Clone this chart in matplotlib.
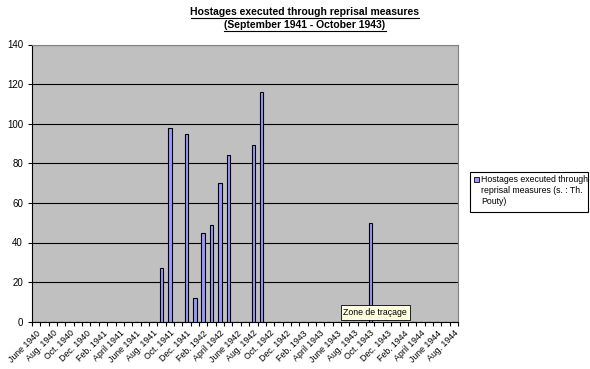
#! /usr/bin/env python

import matplotlib.pyplot as plt
from matplotlib.patches import Rectangle
from matplotlib.lines import Line2D

plt.rcParams['font.family'] = ['Liberation Sans', 'DejaVu Sans']

# one category per month, June 1940 .. Aug. 1944
tick_labels = [
    "June 1940", "Aug. 1940", "Oct. 1940", "Dec. 1940", "Feb. 1941", "April 1941",
    "June 1941", "Aug. 1941", "Oct. 1941", "Dec. 1941", "Feb. 1942", "April 1942",
    "June 1942", "Aug. 1942", "Oct. 1942", "Dec. 1942", "Feb. 1943", "April 1943",
    "June 1943", "Aug. 1943", "Oct. 1943", "Dec. 1943", "Feb. 1944", "April 1944",
    "June 1944", "Aug. 1944",
]

hostages = [
    0, 0, 0, 0, 0, 0, 0,          # June 1940 - Dec. 1940
    0, 0, 0, 0, 0, 0, 0, 0,       # Jan. 1941 - Aug. 1941
    27, 98, 0, 95,                # Sept. 1941 - Dec. 1941
    12, 45, 49, 70, 84, 0, 0, 89, 116, 0, 0, 0,   # 1942
    0, 0, 0, 0, 0, 0, 0, 0, 0, 50, 0, 0,          # 1943
    0, 0, 0, 0, 0, 0, 0, 0,       # Jan. 1944 - Aug. 1944
]

series_label = "Hostages executed through\nreprisal measures (s. : Th.\nPouty)"
title_1 = "Hostages executed through reprisal measures"
title_2 = "(September 1941 - October 1943)"

fig = plt.figure(figsize=(5.9, 3.69), dpi=100)
W, H = 590, 369
ax = fig.add_axes([32 / W, 1 - 321.7 / H, 426 / W, (321.7 - 44.5) / H])
ax.set_facecolor('#C0C0C0')

x = list(range(len(hostages)))
ax.bar(x, hostages, width=0.42, color='#9999FF', edgecolor='black', linewidth=0.8,
       zorder=3, label=series_label)

ax.set_xlim(-0.5, len(hostages) - 0.5)
ax.set_ylim(0, 140)
ax.set_yticks(range(0, 141, 20))
ax.yaxis.grid(True, color='black', linewidth=0.8, zorder=1)
ax.tick_params(axis='y', labelsize=7, length=3, width=0.8, direction='out')

ax.set_xticks(range(0, len(hostages), 2))
ax.set_xticklabels(tick_labels, rotation=45, ha='right', rotation_mode='anchor', fontsize=6.3)
ax.set_xticks([i - 0.5 for i in range(len(hostages) + 1)], minor=True)
ax.tick_params(axis='x', which='major', length=0, pad=5)
ax.tick_params(axis='x', which='minor', length=3, width=0.8, direction='out')

for side in ['top', 'right']:
    ax.spines[side].set_color('#808080')
    ax.spines[side].set_linewidth(0.8)
for side in ['left', 'bottom']:
    ax.spines[side].set_linewidth(0.8)

# titles, underlined like in Excel
fig.canvas.draw()
renderer = fig.canvas.get_renderer()
for txt, ypix in [(title_1, 12), (title_2, 25)]:
    t = fig.text(305 / W, 1 - ypix / H, txt, ha='center', va='center',
                 fontsize=7.5, fontweight='bold')
    bb = t.get_window_extent(renderer).transformed(fig.transFigure.inverted())
    fig.add_artist(Line2D([bb.x0, bb.x1], [bb.y0 - 0.003, bb.y0 - 0.003],
                          transform=fig.transFigure, color='black', linewidth=0.8))

# legend box
fig.add_artist(Rectangle((470 / W, 1 - 212 / H), 118 / W, 40 / H, transform=fig.transFigure,
                         facecolor='white', edgecolor='black', linewidth=0.8))
fig.add_artist(Rectangle((474 / W, 1 - 181.5 / H), 5 / W, 5 / H, transform=fig.transFigure,
                         facecolor='#9999FF', edgecolor='black', linewidth=0.6))
fig.text(481 / W, 1 - 175 / H, series_label, ha='left', va='top', fontsize=6.3,
         linespacing=1.25)

# tooltip left in the screenshot
ax.text(0.806, 0.033, "Zone de traçage", transform=ax.transAxes, ha='center', va='center',
        fontsize=6.3, zorder=5,
        bbox=dict(facecolor='#FFFFE1', edgecolor='black', linewidth=0.6, boxstyle='square,pad=0.3'))

fig.savefig("out.png", dpi=100)
